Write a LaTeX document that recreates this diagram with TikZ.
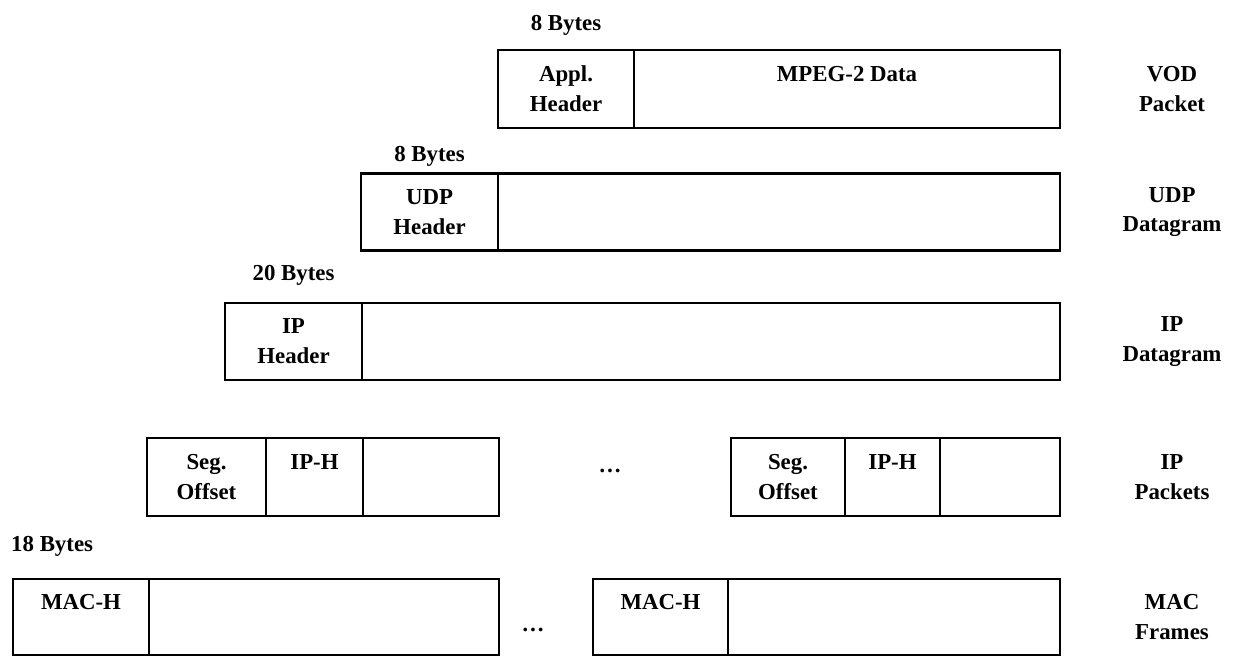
\documentclass[tikz,border=0pt]{standalone}
\usepackage{fontspec}
\setmainfont{Liberation Serif}

\begin{document}
\begin{tikzpicture}[x=0.02cm,y=-0.02cm]
\tikzstyle{every node}=[font=\bfseries\fontsize{13}{17}\selectfont, align=center]
\tikzstyle{field}=[draw, line width=1.4pt, inner sep=0pt]
\tikzstyle{topfield}=[field, text height=10pt, text depth=18pt]
\useasboundingbox (0,0) rectangle (1234,657);

% VOD packet
\node[field, minimum width=2.72cm, minimum height=1.56cm,
label={[label distance=4pt]above:{8 Bytes}}] (appl) at (566,89) {Appl.\\Header};
\node[topfield, minimum width=8.52cm, minimum height=1.56cm] (mpeg) at (847,89) {MPEG-2 Data};
\node (vod) at (1172,89) {VOD\\Packet};

% UDP datagram
\node[field, minimum width=2.74cm, minimum height=1.54cm,
label={[label distance=0pt]above:{8 Bytes}}] (udph) at (429.5,212) {UDP\\Header};
\node[field, minimum width=11.24cm, minimum height=1.54cm] (udpdata) at (779,212) {};
\node (udp) at (1172,212) {UDP\\Datagram};

% IP datagram
\node[field, minimum width=2.74cm, minimum height=1.54cm,
label={[label distance=6pt]above:{20 Bytes}}] (iph) at (293.5,341.5) {IP\\Header};
\node[field, minimum width=13.96cm, minimum height=1.54cm] (ipdata) at (711,341.5) {};
\node (ipdg) at (1172,341.5) {IP\\Datagram};

% IP packets
\node[field, minimum width=2.38cm, minimum height=1.56cm] (seg1) at (206.5,477) {Seg.\\Offset};
\node[topfield, minimum width=1.94cm, minimum height=1.56cm] (iph1) at (314.5,477) {IP-H};
\node[field, minimum width=2.72cm, minimum height=1.56cm] (pay1) at (431,477) {};
\node (ipdots) at (610,471) {\dots};
\node[field, minimum width=2.28cm, minimum height=1.56cm] (seg2) at (788,477) {Seg.\\Offset};
\node[topfield, minimum width=1.90cm, minimum height=1.56cm] (iph2) at (892.5,477) {IP-H};
\node[field, minimum width=2.40cm, minimum height=1.56cm] (pay2) at (1000,477) {};
\node (ippk) at (1172,477) {IP\\Packets};

% MAC frames
\node[anchor=west] (macbytes) at (5,546) {18 Bytes};
\node[topfield, minimum width=2.72cm, minimum height=1.52cm] (mac1) at (81,617) {MAC-H};
\node[field, minimum width=7.00cm, minimum height=1.52cm] (frame1) at (324,617) {};
\node (macdots) at (533,630) {\dots};
\node[topfield, minimum width=2.70cm, minimum height=1.52cm] (mac2) at (660.5,617) {MAC-H};
\node[field, minimum width=6.64cm, minimum height=1.52cm] (frame2) at (894,617) {};
\node (mac) at (1172,617) {MAC\\Frames};

\end{tikzpicture}
\end{document}
